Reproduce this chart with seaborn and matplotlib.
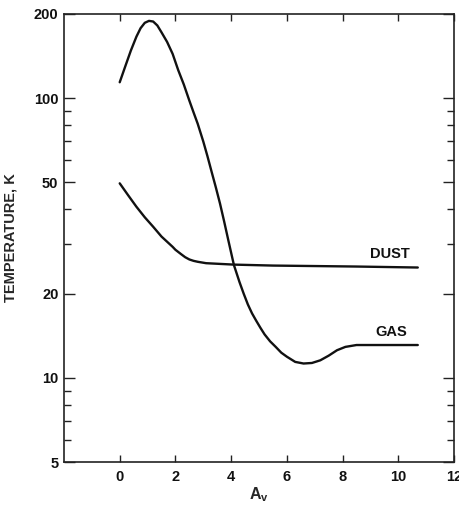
import matplotlib
matplotlib.use("Agg")
import matplotlib.pyplot as plt
import seaborn as sns
import pandas as pd
from matplotlib.ticker import FixedLocator, NullFormatter

# Data
gas_av = [0, 0.2, 0.4, 0.6, 0.75, 0.9, 1.05, 1.2, 1.35, 1.5, 1.7, 1.9, 2.1,
          2.3, 2.5, 2.65, 2.8, 3.0, 3.15, 3.3, 3.45, 3.6, 3.75, 3.9, 4.1, 4.3,
          4.45, 4.6, 4.75, 4.9, 5.05, 5.2, 5.4, 5.6, 5.8, 6.0, 6.3, 6.6, 6.9,
          7.2, 7.5, 7.8, 8.1, 8.5, 9.5, 10.7]
gas_t = [114, 130, 148, 166, 178, 186, 189, 188, 182, 172, 159, 144, 126,
         112, 98, 89, 81, 70, 62, 54.5, 48, 42, 36.2, 31, 25.3, 22.0, 20.0,
         18.3, 17.0, 16.0, 15.1, 14.3, 13.5, 12.9, 12.3, 11.9, 11.4, 11.25,
         11.3, 11.55, 12.0, 12.55, 12.9, 13.1, 13.1, 13.1]
dust_av = [0, 0.3, 0.6, 0.9, 1.2, 1.5, 1.9, 2.0, 2.2, 2.35, 2.5, 2.65, 2.8,
           3.1, 4.1, 5.5, 7.0, 8.5, 10.7]
dust_t = [49.6, 45, 40.9, 37.5, 34.7, 32, 29.4, 28.7, 27.7, 27.0, 26.5, 26.2,
          26.0, 25.7, 25.4, 25.2, 25.1, 25.0, 24.8]
x_ticks = [0, 2, 4, 6, 8, 10, 12]
y_ticks = [5, 10, 20, 50, 100, 200]
y_minor = [6, 7, 8, 9, 30, 40, 60, 70, 80, 90]
labels = {"DUST": (9.7, 27.7), "GAS": (9.75, 14.6)}

gas_df = pd.DataFrame({"Av": gas_av, "T": gas_t})
dust_df = pd.DataFrame({"Av": dust_av, "T": dust_t})

sns.set_style("ticks")
plt.rcParams["font.family"] = ["Liberation Sans", "DejaVu Sans"]

fig = plt.figure(figsize=(4.59, 5.07), dpi=100)
ax = fig.add_axes([64 / 459, 1 - 462 / 507, (454 - 64) / 459, (462 - 14) / 507])

lw = 1.7
sns.lineplot(data=gas_df, x="Av", y="T", ax=ax, color="#111111", lw=lw,
             sort=False, estimator=None)
sns.lineplot(data=dust_df, x="Av", y="T", ax=ax, color="#111111", lw=lw,
             sort=False, estimator=None)

ax.set_yscale("log")
ax.set_xlim(-2, 12)
ax.set_ylim(5, 200)
ax.xaxis.set_major_locator(FixedLocator(x_ticks))
ax.set_xticklabels([str(v) for v in x_ticks])
ax.yaxis.set_major_locator(FixedLocator(y_ticks))
ax.set_yticklabels([str(v) for v in y_ticks])
ax.yaxis.set_minor_locator(FixedLocator(y_minor))
ax.yaxis.set_minor_formatter(NullFormatter())
ax.xaxis.set_minor_locator(FixedLocator([]))

ax.tick_params(axis="both", which="both", direction="in", top=True, right=True,
               colors="#222222", labelcolor="#111111", width=1.0)
ax.tick_params(axis="x", which="major", length=5, pad=6, labelsize=10.5)
ax.tick_params(axis="y", which="major", length=8, pad=4, labelsize=10.5)
ax.tick_params(axis="y", which="minor", length=5)
for lab in ax.get_xticklabels() + ax.get_yticklabels():
    lab.set_fontweight("bold")
for s in ax.spines.values():
    s.set_linewidth(1.2)
    s.set_color("#222222")

ax.set_xlabel(r"A$_\mathregular{v}$", fontsize=11.5, fontweight="bold", labelpad=1)
ax.set_ylabel("TEMPERATURE, K", fontsize=10.5, fontweight="bold", labelpad=12)

for name, (xx, yy) in labels.items():
    ax.text(xx, yy, name, ha="center", va="center", fontsize=10.5,
            fontweight="bold", color="#111111")

fig.savefig("out.png", dpi=100)
